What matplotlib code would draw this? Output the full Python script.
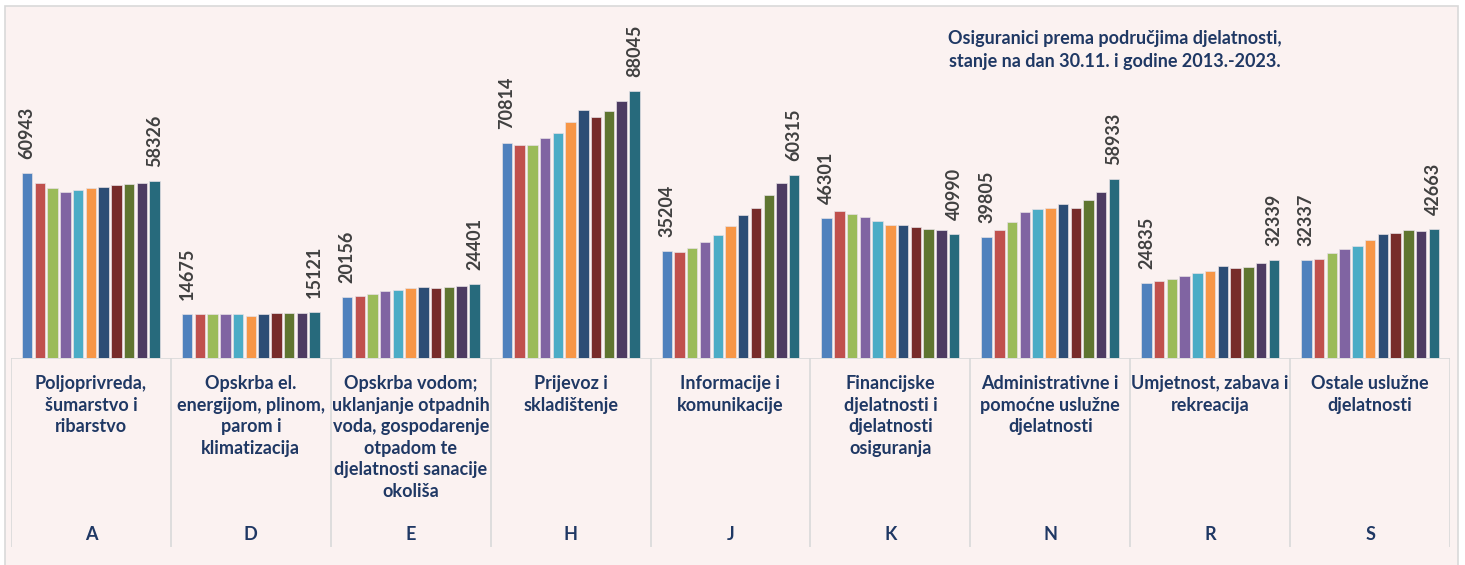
import numpy as np
import matplotlib.pyplot as plt
from matplotlib.patches import Rectangle

# sections of activity (NKD) and their descriptions
codes = ["A", "D", "E", "H", "J", "K", "N", "R", "S"]
names = [
    "Poljoprivreda,\nšumarstvo i\nribarstvo",
    "Opskrba el.\nenergijom, plinom,\nparom i\nklimatizacija",
    "Opskrba vodom;\nuklanjanje otpadnih\nvoda, gospodarenje\notpadom te\ndjelatnosti sanacije\nokoliša",
    "Prijevoz i\nskladištenje",
    "Informacije i\nkomunikacije",
    "Financijske\ndjelatnosti i\ndjelatnosti\nosiguranja",
    "Administrativne i\npomoćne uslužne\ndjelatnosti",
    "Umjetnost, zabava i\nrekreacija",
    "Ostale uslužne\ndjelatnosti",
]
years = list(range(2013, 2024))

# insured persons per year 2013..2023 (first and last are labelled, rest)
val_A = [60943, 57750, 55990, 54780, 55330, 56210, 56540, 57200, 57530, 57860, 58326]
val_D = [14675, 14675, 14675, 14675, 14560, 13800, 14450, 14780, 14780, 15000, 15121]
val_E = [20156, 20500, 21150, 21950, 22500, 22950, 23400, 23050, 23400, 23850, 24401]
val_H = [70814, 70400, 70400, 72600, 74360, 77880, 81950, 79420, 81620, 84700, 88045]
val_J = [35204, 34900, 36300, 38400, 40600, 43600, 47200, 49400, 53600, 57800, 60315]
val_K = [46301, 48600, 47400, 46500, 45300, 44000, 43850, 43300, 42650, 42100, 40990]
val_N = [39805, 42100, 44800, 48000, 49000, 49600, 50700, 49600, 52200, 54800, 58933]
val_R = [24835, 25400, 26050, 27050, 28050, 28850, 30500, 29700, 30050, 31300, 32339]
val_S = [32337, 32700, 34500, 36000, 36800, 39000, 40900, 41200, 42300, 42000, 42663]

data = np.array([val_A, val_D, val_E, val_H, val_J, val_K, val_N, val_R, val_S])

colors = ["#4F81BD", "#C0504D", "#9BBB59", "#8064A2", "#4BACC6", "#F79646",
          "#2C4D75", "#772C2A", "#5F7530", "#4D3B62", "#276A7C"]

plt.rcParams["font.family"] = ["Lato", "DejaVu Sans"]
navy = "#1F3864"
bg = "#FBF2F1"
fs = 13

W, H = 1465, 565
fig = plt.figure(figsize=(W / 100, H / 100), dpi=100)
fig.patch.set_facecolor("white")

# chart frame (cut at bottom like the original)
fig.patches.append(Rectangle((5 / W, -0.05), (1458 - 5) / W, (H - 6) / H + 0.05,
                             transform=fig.transFigure, facecolor=bg,
                             edgecolor="#D9D9D9", linewidth=1.2, zorder=-5))

x0, x1 = 11, 1450
base_y, top_y = 358, 20
ax = fig.add_axes([x0 / W, (H - base_y) / H, (x1 - x0) / W, (base_y - top_y) / H])
ax.set_facecolor("none")

n_groups = len(codes)
n_years = len(years)
pitch = 0.0797
x = np.arange(n_groups)
for i in range(n_years):
    pos = x + (i - (n_years - 1) / 2) * pitch
    ax.bar(pos, data[:, i], width=pitch * 0.82, color=colors[i],
           edgecolor="#E6E0E4", linewidth=0.5, zorder=2)
    if i in (0, n_years - 1):
        for xp, v in zip(pos, data[:, i]):
            ax.annotate(str(v), (xp, v), xytext=(0, 10), textcoords="offset points",
                        rotation=90, ha="center", va="bottom", fontsize=fs,
                        fontweight="bold", color="#404040")

ax.set_xlim(-0.5, n_groups - 0.5)
ax.set_ylim(0, (base_y - top_y) * 329.8)
ax.axis("off")

# category table under the bars
cat_bottom = 547
ax2 = fig.add_axes([x0 / W, (H - cat_bottom) / H, (x1 - x0) / W, (cat_bottom - base_y) / H])
ax2.set_facecolor("none")
ax2.set_xlim(-0.5, n_groups - 0.5)
ax2.set_ylim(cat_bottom - base_y, 0)
ax2.axis("off")
ax2.axhline(0, color="#D9D9D9", linewidth=1.2)
for b in np.arange(n_groups + 1) - 0.5:
    ax2.axvline(b, color="#D9D9D9", linewidth=1.2)
for g in range(n_groups):
    ax2.text(g, 17, names[g], ha="center", va="top", fontsize=fs,
             fontweight="bold", color=navy, linespacing=1.33)
    ax2.text(g, 177, codes[g], ha="center", va="center", fontsize=fs,
             fontweight="bold", color=navy)

fig.text(1115 / W, 1 - 50 / H,
         "Osiguranici prema područjima djelatnosti,\nstanje na dan 30.11. i godine 2013.-2023.",
         ha="center", va="center", fontsize=fs, fontweight="bold", color=navy,
         linespacing=1.4)

fig.savefig("out.png", dpi=100, facecolor=fig.get_facecolor())
